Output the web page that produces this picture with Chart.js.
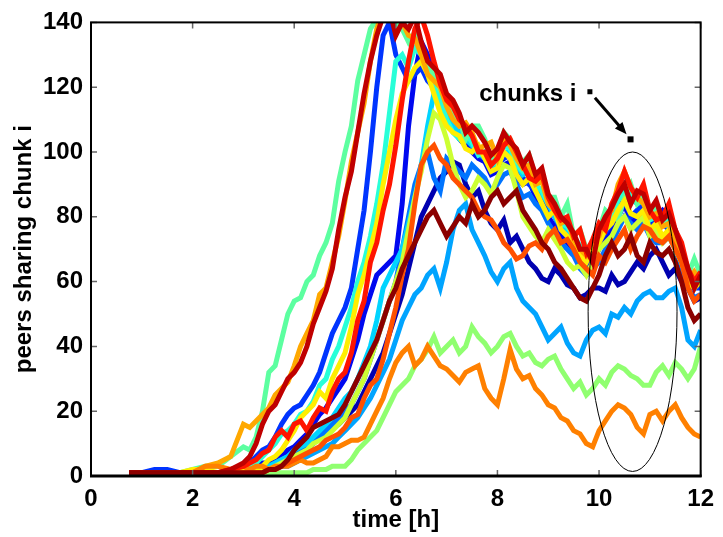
<!DOCTYPE html>
<html>
<head>
<meta charset="utf-8">
<script src="https://cdn.jsdelivr.net/npm/chart.js@4"></script>
<style>
  body { margin: 0; background: #fff; }
  canvas { display: block; }
</style>
</head>
<body>
<canvas id="chunks" width="723" height="537"></canvas>
<script>
// sample times in hours: every 15 min up to 2.75 h, then every 7.5 min
var hours = [0,0.25,0.5,0.75,1,1.25,1.5,1.75,2,2.25,2.5,2.75,
  3,3.125,3.25,3.375,3.5,3.625,3.75,3.875,4,4.125,4.25,4.375,4.5,4.625,4.75,4.875,
  5,5.125,5.25,5.375,5.5,5.625,5.75,5.875,6,6.125,6.25,6.375,6.5,6.625,6.75,6.875,
  7,7.125,7.25,7.375,7.5,7.625,7.75,7.875,8,8.125,8.25,8.375,8.5,8.625,8.75,8.875,
  9,9.125,9.25,9.375,9.5,9.625,9.75,9.875,10,10.125,10.25,10.375,10.5,10.625,10.75,10.875,
  11,11.125,11.25,11.375,11.5,11.625,11.75,11.875,12];

var yTicks = [0, 20, 40, 60, 80, 100, 120, 140];
var xTicks = [0, 2, 4, 6, 8, 10, 12];

// peers sharing each chunk
var maroon = [null,null,null,1,1,1,1,1,1,1,1,1,
  1,1, 1,1, 2,2, 3,5, 8,10, 12,15, 16,17, 18,19, 22,26, 30,34, 38,42, 48,54, 58,64,
  68,72, 76,80, 82,78, 74,77, 80,78, 84,80, 82,86, 88,84, 86,88, 82,79, 76,72, 70,66,
  64,61, 58,55, 54,58, 62,68, 72,68, 70,74, 68,66, 72,69, 68,70, 66,60, 52,48, 50];
var darkRed = [null,null,null,1,1,1,1,1,1,1,1,2,
  4,6, 10,16, 20,22, 26,30, 32,35, 40,47, 52,57, 64,76, 86,94, 106,118, 128,136, 142,144, 136,140,
  138,142, 134,128, 126,124, 118,116, 112,106, 108,106, 103,99, 101,106, 103,101, 96,99, 93,95, 87,84,
  80,78, 75,70, 70,66, 76,80, 83,87, 90,84, 88,87, 82,85, 79,81, 76,70, 64,58, 62];
var red = [null,null,null,1,1,1,1,1,1,1,1,2,
  3,4, 5,7, 8,12, 14,12, 16,17, 14,18, 21,20, 26,30, 32,38, 48,54, 66,72, 82,90, 102,116,
  128,138, 142,136, 128,121, 116,114, 110,108, 105,100, 100,96, 98,102, 104,100, 96,92, 91,93, 86,82,
  79,80, 74,76, 69,73, 78,76, 84,88, 94,89, 86,90, 82,79, 80,84, 76,72, 64,60, 63];
var orangeRed = [null,null,null,1,1,1,1,1,1,1,1,1,
  1,1, 1,1, 2,2, 3,4, 5,6, 7,8, 9,11, 12,13, 15,18, 19,24, 28,30, 36,44, 52,62,
  70,84, 96,100, 102,98, 96,92, 90,88, 86,82, 80,79, 76,72, 70,67, 68,71, 72,70, 74,76,
  72,73, 70,66, 64,62, 68,66, 70,73, 76,70, 74,77, 76,73, 72,74, 70,66, 58,54, 56];
var darkOrange = [null,null,null,1,1,1,1,1,1,3,3,2,
  3,2, 3,3, 2,3, 3,3, 4,5, 4,4, 5,6, 9,9, 10,11, 11,12, 16,20, 24,30, 35,38,
  40,34, 36,40, 37,34, 33,31, 29,32, 33,34, 27,24, 22,30, 39,33, 30,31, 27,25, 22,21,
  18,17, 14,13, 10,9, 14,17, 20,22, 21,19, 15,13, 19,20, 17,20, 22,18, 15,13, 12];
var orange = [null,null,null,1,1,1,1,1,1,3,4,6,
  16,15, 17,19, 21,25, 27,29, 34,40, 44,48, 56,58, 66,74, 85,97, 106,115, 128,138, 144,146, 142,140,
  136,135, 130,124, 122,120, 114,110, 108,109, 106,101, 102,103, 98,104, 102,98, 95,96, 90,91, 84,82,
  78,79, 73,70, 68,72, 74,80, 82,90, 94,89, 86,84, 80,81, 77,78, 72,66, 60,63, 60];
var yellow = [null,null,null,1,1,1,1,1,2,2,1,1,
  2,2, 2,3, 5,6, 8,11, 14,18, 20,22, 26,24, 30,34, 38,46, 56,62, 70,78, 90,100, 110,118,
  122,126, 128,124, 118,112, 108,106, 105,101, 100,102, 98,94, 95,100, 98,93, 90,92, 88,84, 80,82,
  76,74, 72,68, 66,70, 72,76, 78,82, 85,81, 80,82, 76,78, 74,76, 70,66, 60,58, 60];
var yellowGreen = [null,null,null,1,1,1,1,1,1,1,1,1,
  1,1, 2,2, 2,3, 4,5, 6,7, 8,10, 11,12, 14,16, 18,22, 26,30, 36,42, 48,54, 60,66,
  76,86, 94,104, 112,110, 104,96, 90,86, 88,92, 90,87, 92,96, 95,88, 80,77, 74,72, 76,73,
  70,66, 64,65, 62,66, 70,72, 74,78, 80,76, 78,80, 74,76, 72,74, 70,66, 60,58, 62];
var lightGreen = [null,null,null,1,1,1,1,1,1,1,1,1,
  1,1, 1,1, 1,1, 1,1, 1,1, 1,2, 2,2, 3,3, 3,5, 8,10, 12,14, 18,22, 26,28,
  30,34, 36,39, 43,38, 40,42, 38,40, 46,43, 41,38, 40,43, 44,40, 37,38, 35,34, 36,37,
  33,30, 27,29, 25,27, 30,28, 32,34, 33,31, 30,28, 28,32, 34,31, 35,33, 30,33, 40];
var mint = [null,null,null,1,1,1,1,1,2,3,3,6,
  9,8, 12,20, 32,34, 42,50, 54,55, 60,62, 68,72, 78,91, 100,108, 122,130, 138,141, 146,144, 140,138,
  134,137, 132,127, 124,119, 116,112, 110,104, 108,108, 104,98, 100,106, 104,97, 97,99, 92,94, 86,86,
  80,84, 74,76, 70,72, 76,82, 80,79, 86,90, 84,86, 80,83, 78,82, 74,71, 62,67, 62];
var aqua = [null,null,null,1,1,1,1,1,1,1,1,1,
  2,3, 4,6, 8,10, 13,14, 16,19, 20,23, 28,30, 36,40, 46,52, 60,66, 74,84, 96,112, 128,130,
  126,132, 130,128, 122,116, 110,106, 104,106, 103,99, 100,96, 97,102, 101,96, 94,96, 90,88, 84,83,
  78,77, 74,71, 68,70, 74,78, 80,85, 88,86, 85,88, 79,80, 78,79, 74,69, 61,60, 62];
var cyan = [null,null,null,1,1,1,1,1,1,1,1,1,
  2,2, 2,3, 3,4, 5,6, 8,9, 10,12, 14,16, 18,21, 24,26, 30,35, 40,48, 58,62, 66,70,
  78,86, 96,108, 118,116, 112,108, 106,104, 102,100, 98,95, 96,100, 100,96, 93,94, 89,87, 84,80,
  77,75, 72,70, 67,70, 74,77, 80,86, 90,86, 84,85, 80,82, 78,77, 72,68, 62,60, 61];
var deepSky = [null,null,null,1,1,1,1,1,1,1,1,1,
  1,1, 1,2, 2,2, 3,3, 4,5, 6,7, 8,9, 10,12, 14,16, 18,21, 24,28, 32,36, 42,48,
  52,56, 58,62, 64,58, 66,76, 82,84, 76,72, 68,63, 60,64, 66,58, 54,52, 50,46, 42,44,
  46,41, 38,37, 42,45, 46,44, 50,49, 52,50, 54,56, 57,55, 55,57, 58,52, 42,40, 45];
var azure = [null,null,null,1,1,1,1,1,1,1,1,1,
  1,1, 2,2, 3,4, 5,6, 7,8, 9,10, 12,14, 16,18, 20,22, 26,30, 36,42, 48,54, 60,70,
  80,90, 96,100, 92,88, 98,96, 94,92, 96,94, 92,88, 90,93, 94,90, 86,87, 84,82, 78,75,
  72,70, 68,64, 62,64, 66,70, 72,76, 80,78, 76,78, 74,72, 72,74, 70,64, 58,55, 56];
var brightBlue = [null,null,null,1,1,2,2,1,1,1,1,1,
  3,4, 6,8, 9,12, 16,19, 21,22, 25,28, 32,38, 44,48, 52,58, 70,82, 100,120, 136,140, 130,126,
  122,124, 126,122, 120,116, 112,108, 106,104, 102,99, 98,94, 96,98, 99,95, 92,90, 88,85, 82,80,
  76,74, 72,68, 66,68, 72,75, 78,83, 86,80, 82,84, 76,79, 78,76, 73,66, 60,58, 58];
var blue = [null,null,null,1,1,1,1,1,1,1,1,1,
  1,2, 3,4, 4,5, 6,8, 9,11, 13,16, 19,21, 24,27, 30,36, 42,50, 56,62, 64,66, 68,84,
  108,124, 134,130, 124,118, 112,108, 104,102, 100,98, 97,93, 94,96, 97,92, 90,91, 86,84, 80,77,
  74,72, 70,66, 64,66, 70,73, 76,80, 84,78, 80,82, 78,80, 82,80, 76,70, 62,58, 60];
var darkBlue = [null,null,null,1,1,1,1,1,1,1,1,1,
  1,1, 2,2, 3,3, 4,5, 6,7, 8,10, 12,14, 15,16, 18,20, 22,26, 30,34, 38,44, 50,56,
  64,72, 80,84, 88,92, 94,97, 96,90, 86,88, 82,78, 76,79, 72,74, 70,66, 64,61, 60,64,
  62,59, 58,55, 56,58, 58,57, 62,59, 60,63, 66,64, 68,70, 66,62, 64,60, 58,54, 55];

// first in list is drawn on top
var series = [
  [maroon, '#8c0000'], [darkRed, '#c00000'], [red, '#ff1400'], [orangeRed, '#ff5000'],
  [darkOrange, '#ff8000'], [orange, '#ffa800'], [yellow, '#ffee00'], [yellowGreen, '#ccff33'],
  [lightGreen, '#90ff70'], [mint, '#5cffa0'], [aqua, '#28ffd8'], [cyan, '#00d4ff'],
  [deepSky, '#00a4ff'], [azure, '#0074ff'], [brightBlue, '#0034ff'], [blue, '#0008f0'],
  [darkBlue, '#0000b0']
];

var datasets = series.map(function(s) {
  if (s[0].length !== hours.length) console.log('length mismatch', s[1], s[0].length);
  return {
    data: hours.map(function(h, i) { return { x: h, y: s[0][i] }; }),
    borderColor: s[1],
    borderWidth: 5,
    pointRadius: 0,
    tension: 0,
    fill: false,
    clip: 0
  };
});

var font = { family: '"Liberation Sans", Arial, Helvetica, sans-serif', size: 24, weight: 'bold' };

// box, inward ticks, the ellipse and the "chunks i" note
var extras = {
  id: 'extras',
  afterDatasetsDraw: function(chart) {
    var ctx = chart.ctx, a = chart.chartArea;
    var xs = chart.scales.x, ys = chart.scales.y;
    ctx.save();

    ctx.strokeStyle = '#666';
    ctx.lineWidth = 1.5;
    xTicks.forEach(function(t) {
      var px = xs.getPixelForValue(t);
      ctx.beginPath();
      ctx.moveTo(px, a.bottom); ctx.lineTo(px, a.bottom - 6);
      ctx.moveTo(px, a.top); ctx.lineTo(px, a.top + 6);
      ctx.stroke();
    });
    yTicks.forEach(function(v) {
      var py = ys.getPixelForValue(v);
      ctx.beginPath();
      ctx.moveTo(a.left, py); ctx.lineTo(a.left + 6, py);
      ctx.moveTo(a.right, py); ctx.lineTo(a.right - 6, py);
      ctx.stroke();
    });

    ctx.strokeStyle = '#000';
    ctx.lineWidth = 2;
    ctx.strokeRect(a.left, a.top, a.right - a.left, a.bottom - a.top);
    ctx.lineWidth = 3;
    ctx.beginPath();
    ctx.moveTo(a.left - 1, a.bottom); ctx.lineTo(a.right + 1, a.bottom);
    ctx.stroke();

    // ellipse round the chunks at ~10.7 h
    var cx = xs.getPixelForValue(10.66), cy = ys.getPixelForValue(50.7);
    var rx = xs.getPixelForValue(10.66 + 0.875) - cx;
    var ry = cy - ys.getPixelForValue(50.7 + 49.3);
    ctx.lineWidth = 1;
    ctx.beginPath();
    ctx.ellipse(cx, cy, rx, ry, 0, 0, Math.PI * 2);
    ctx.stroke();

    // label, markers and arrow
    ctx.fillStyle = '#000';
    ctx.font = 'bold 24px "Liberation Sans", Arial, sans-serif';
    ctx.textBaseline = 'alphabetic';
    ctx.textAlign = 'left';
    ctx.fillText('chunks i', xs.getPixelForValue(7.64), ys.getPixelForValue(115.8));

    var m1x = xs.getPixelForValue(9.82), m1y = ys.getPixelForValue(118.6);
    var m2x = xs.getPixelForValue(10.62), m2y = ys.getPixelForValue(103.9);
    ctx.fillRect(m1x - 2.5, m1y - 2.5, 5, 5);
    ctx.fillRect(m2x - 3, m2y - 3, 6, 6);

    var x0 = m1x + 5, y0 = m1y + 6, x1 = m2x - 4, y1 = m2y - 5;
    var ang = Math.atan2(y1 - y0, x1 - x0);
    ctx.lineWidth = 3;
    ctx.beginPath();
    ctx.moveTo(x0, y0);
    ctx.lineTo(x1 - 8 * Math.cos(ang), y1 - 8 * Math.sin(ang));
    ctx.stroke();
    ctx.beginPath();
    ctx.moveTo(x1, y1);
    ctx.lineTo(x1 - 12 * Math.cos(ang) + 5 * Math.sin(ang), y1 - 12 * Math.sin(ang) - 5 * Math.cos(ang));
    ctx.lineTo(x1 - 12 * Math.cos(ang) - 5 * Math.sin(ang), y1 - 12 * Math.sin(ang) + 5 * Math.cos(ang));
    ctx.closePath();
    ctx.fill();

    ctx.restore();
  }
};

new Chart(document.getElementById('chunks'), {
  type: 'line',
  data: { datasets: datasets },
  options: {
    responsive: false,
    animation: false,
    layout: { padding: { left: 0, top: 19, right: 16, bottom: 0 } },
    plugins: { legend: { display: false }, tooltip: { enabled: false } },
    scales: {
      x: {
        type: 'linear',
        min: 0, max: 12,
        afterFit: function(s) { s.height = 61; },
        afterBuildTicks: function(s) { s.ticks = xTicks.map(function(v) { return { value: v }; }); },
        grid: { display: false, drawTicks: false },
        border: { display: false },
        ticks: { color: '#000', font: font, padding: 9, maxRotation: 0 },
        title: { display: true, text: 'time [h]', color: '#000', font: font, padding: { top: 0, bottom: 2 } }
      },
      y: {
        min: 0, max: 140,
        afterFit: function(s) { s.width = 91; },
        afterBuildTicks: function(s) { s.ticks = yTicks.map(function(v) { return { value: v }; }); },
        grid: { display: false, drawTicks: false },
        border: { display: false },
        ticks: { color: '#000', font: font, padding: 8 },
        title: { display: true, text: 'peers sharing chunk i', color: '#000', font: font, padding: { top: 10, bottom: 0 } }
      }
    }
  },
  plugins: [extras]
});
</script>
</body>
</html>
